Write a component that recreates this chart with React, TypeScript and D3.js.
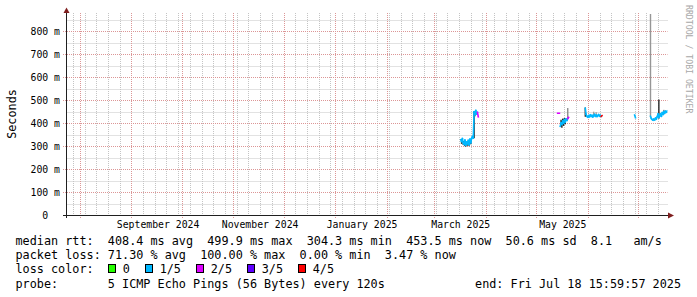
import React from 'react';
import * as d3 from 'd3';

const W = 697;
const H = 297;

// ---- axis data ----
const yTickValues = [0, 100, 200, 300, 400, 500, 600, 700, 800];
const yTickLabels = ['0  ', '100 m', '200 m', '300 m', '400 m', '500 m', '600 m', '700 m', '800 m'];
const yMinorValues = [50, 150, 250, 350, 450, 550, 650, 750, 850];
const startTime = '2024-07-23 15:59:57';
const endTime = '2025-07-18 15:59:57';

// ---- median rtt samples (ms), null = no data ----
const sampleTimes = [
  '2025-03-17 00:00', '2025-03-17 12:00', '2025-03-18 00:00', '2025-03-18 12:00', '2025-03-19 00:00',
  '2025-03-19 12:00', '2025-03-20 00:00', '2025-03-20 12:00', '2025-03-21 00:00', '2025-03-21 12:00',
  '2025-03-22 00:00', '2025-03-22 12:00', '2025-03-23 00:00', '2025-03-23 12:00', '2025-03-24 00:00',
  '2025-03-24 12:00', '2025-03-25 00:00', '2025-03-25 12:00', '2025-03-26 00:00', '2025-03-26 12:00',
  '2025-03-27 00:00', '2025-03-27 12:00', '2025-03-28 00:00',
  '2025-05-14 12:00', '2025-05-15 00:00',
  '2025-05-15 12:00', '2025-05-16 00:00', '2025-05-16 12:00', '2025-05-17 00:00', '2025-05-17 12:00',
  '2025-05-18 00:00', '2025-05-18 12:00', '2025-05-19 00:00', '2025-05-19 12:00', '2025-05-20 00:00',
  '2025-05-20 12:00', '2025-05-21 00:00',
  '2025-05-30 12:00', '2025-05-31 00:00', '2025-05-31 12:00', '2025-06-01 00:00', '2025-06-01 12:00',
  '2025-06-02 00:00', '2025-06-02 12:00', '2025-06-03 00:00', '2025-06-03 12:00', '2025-06-04 00:00',
  '2025-06-04 12:00', '2025-06-05 00:00', '2025-06-05 12:00', '2025-06-06 00:00', '2025-06-06 12:00',
  '2025-06-07 00:00', '2025-06-07 12:00', '2025-06-08 00:00', '2025-06-08 12:00', '2025-06-09 00:00',
  '2025-06-09 12:00', '2025-06-10 00:00',
  '2025-06-29 00:00', '2025-06-29 12:00', '2025-06-30 00:00',
  '2025-07-08 12:00', '2025-07-09 00:00', '2025-07-09 12:00', '2025-07-10 00:00', '2025-07-10 12:00',
  '2025-07-11 00:00', '2025-07-11 12:00', '2025-07-12 00:00', '2025-07-12 12:00', '2025-07-13 00:00',
  '2025-07-13 12:00', '2025-07-14 00:00', '2025-07-14 12:00', '2025-07-15 00:00', '2025-07-15 12:00',
  '2025-07-16 00:00', '2025-07-16 12:00', '2025-07-17 00:00', '2025-07-17 12:00', '2025-07-18 00:00',
  '2025-07-18 12:00',
];
const medianRtt: (number | null)[] = [
  328, 320, 333, 314, 308,
  326, 304, 318, 310, 325,
  306, 330, 315, 334, 342,
  335, 450, 438, 455, 440,
  447, 428, null,
  443, null,
  386, 402, 395, 410, 400,
  415, 405, 418, 412, 420,
  425, null,
  465, 438, 430, 426, 433,
  428, 436, 430, 434, 427,
  432, 438, 430, 435, 429,
  433, 437, 431, 434, 430,
  433, null,
  436, 424, null,
  430, 420, 416, 413, 418,
  414, 422, 418, 428, 440,
  425, 432, 440, 430, 446,
  438, 450, 444, 452, 448,
  453.5,
];
const lostPings: number[] = [
  1, 1, 1, 1, 1,
  1, 1, 1, 1, 1,
  1, 1, 1, 1, 1,
  1, 1, 1, 1, 1,
  1, 2, 0,
  2, 0,
  2, 1, 1, 1, 1,
  1, 1, 1, 1, 1,
  2, 0,
  4, 1, 1, 1, 1,
  1, 1, 1, 1, 1,
  1, 1, 1, 1, 1,
  1, 1, 1, 1, 1,
  4, 0,
  2, 1, 0,
  3, 1, 1, 1, 1,
  1, 1, 1, 1, 1,
  1, 1, 1, 1, 1,
  1, 1, 1, 1, 1,
  1,
];

// ---- smoke (rtt spread of the pings), ms ----
const smokeTimes = [
  '2025-03-17 12:00', '2025-03-18 12:00', '2025-03-19 12:00', '2025-03-20 00:00', '2025-03-21 00:00',
  '2025-03-22 00:00', '2025-03-23 00:00', '2025-03-25 00:00', '2025-03-25 12:00',
  '2025-05-16 00:00', '2025-05-16 12:00', '2025-05-17 00:00', '2025-05-17 12:00', '2025-05-18 00:00',
  '2025-05-18 12:00', '2025-05-20 00:00',
  '2025-05-30 12:00', '2025-06-04 12:00', '2025-06-06 00:00',
  '2025-07-08 12:00', '2025-07-13 12:00', '2025-07-16 12:00',
];
const smokeLow = [
  310, 305, 300, 298, 302,
  300, 308, 335, 430,
  385, 380, 392, 388, 398,
  395, 420,
  428, 432, 435,
  425, 420, 438,
];
const smokeHigh = [
  330, 322, 326, 318, 320,
  318, 325, 452, 452,
  415, 410, 420, 418, 422,
  420, 466,
  468, 450, 448,
  900, 503, 458,
];
const smokeSpread = [
  0.1, 0.1, 0.1, 0.1, 0.1,
  0.1, 0.1, 0.1, 0.3,
  0.1, 0.1, 0.1, 0.1, 0.1,
  0.1, 0.6,
  0.1, 0.7, 0.7,
  0.65, 0.1, 0.5,
];

// ---- legend ----
const lossLabels = ['0', '1/5', '2/5', '3/5', '4/5'];
const lossColors = ['#26ff00', '#00b8ff', '#dd00ff', '#5e00ff', '#ff0000'];
const statLine1 = 'median rtt:  408.4 ms avg  499.9 ms max  304.3 ms min  453.5 ms now  50.6 ms sd  8.1   am/s';
const statLine2 = 'packet loss: 71.30 % avg  100.00 % max  0.00 % min  3.47 % now';
const lossTitle = 'loss color:';
const probeLine = 'probe:       5 ICMP Echo Pings (56 Bytes) every 120s';
const endLine = 'end: Fri Jul 18 15:59:57 2025';
const yTitle = 'Seconds';
const watermark = 'RRDTOOL / TOBI OETIKER';

const MONO = '"DejaVu Sans Mono", "Liberation Mono", monospace';

export default function App() {
  const parse = d3.timeParse('%Y-%m-%d %H:%M');
  const parseFull = d3.timeParse('%Y-%m-%d %H:%M:%S');
  const t0 = parseFull(startTime) as Date;
  const t1 = parseFull(endTime) as Date;

  const left = 65.6;
  const right = 667.5;
  const top = 13;
  const bottom = 215;
  const axisX = 66.5;

  const x = d3.scaleTime().domain([t0, t1]).range([left, right]);
  const y = d3.scaleLinear().domain([0, 880]).range([bottom, top]);

  const weeks = d3.timeSunday.range(t0, t1);
  const months = d3.timeMonth.range(t0, t1);
  const labelMonths = d3.timeMonth.every(2)!.range(t0, t1);
  const fmt = d3.timeFormat('%B %Y');
  const axisFont = 9.8;
  const axisCharW = axisFont * 0.602;

  const pts = sampleTimes.map((s, i) => ({
    t: parse(s) as Date,
    v: medianRtt[i],
    loss: lostPings[i],
  }));

  const segs: { x1: number; y1: number; x2: number; y2: number; c: string }[] = [];
  pts.forEach((p, i) => {
    if (p.v == null) return;
    const xi = x(p.t);
    const yi = y(p.v);
    const prev = i > 0 ? pts[i - 1] : null;
    const next = i < pts.length - 1 ? pts[i + 1] : null;
    const c = lossColors[p.loss];
    if (prev && prev.v != null) {
      segs.push({ x1: x(prev.t), y1: y(prev.v), x2: xi, y2: yi, c });
    } else if (!next || next.v == null) {
      segs.push({ x1: xi - 0.9, y1: yi, x2: xi + 0.9, y2: yi, c });
    }
  });

  const smoke = smokeTimes.map((s, i) => {
    const g = Math.round(20 + smokeSpread[i] * 200);
    return {
      x: x(parse(s) as Date),
      y1: y(smokeHigh[i]),
      y2: y(smokeLow[i]),
      c: `rgb(${g},${g},${g})`,
    };
  });

  const legendFont = 11.8;
  const charW = legendFont * 0.602;
  const textX = 15.5;
  const lineY = [245, 259.2, 273.4, 287.6];

  // legend item layout
  let cx = textX + 13 * charW;
  const legendItems = lossLabels.map((lab, i) => {
    const bx = cx;
    const tx = bx + 15;
    cx = tx + (lab.length + 2) * charW + 0.5;
    return { bx, tx, lab, c: lossColors[i] };
  });

  const gridMinor = '#c4c4c4';
  const gridMajor = '#dc9696';
  const arrow = '#7f1f1f';

  return (
    <svg
      width={W}
      height={H}
      viewBox={`0 0 ${W} ${H}`}
      style={{ position: 'absolute', left: 0, top: 0, display: 'block', background: '#fff' }}
    >
      <rect x={0} y={0} width={W} height={H} fill="#ffffff" />
      <defs>
        <clipPath id="plotclip">
          <rect x={axisX} y={top + 1} width={right - axisX} height={bottom - top - 1} />
        </clipPath>
      </defs>

      {/* minor horizontal grid */}
      {yMinorValues.map((v) => (
        <line key={'hm' + v} x1={axisX} x2={right} y1={Math.round(y(v)) + 0.5} y2={Math.round(y(v)) + 0.5}
          stroke={gridMinor} strokeDasharray="1,1" />
      ))}
      {/* minor vertical grid (weeks) */}
      {weeks.map((d) => {
        const xx = Math.round(x(d)) + 0.5;
        return <line key={'vw' + +d} x1={xx} x2={xx} y1={top} y2={bottom} stroke={gridMinor} strokeDasharray="1,1" />;
      })}
      {/* major horizontal grid */}
      {yTickValues.filter((v) => v > 0).map((v) => (
        <line key={'hM' + v} x1={63} x2={right} y1={Math.round(y(v)) + 0.5} y2={Math.round(y(v)) + 0.5}
          stroke={gridMajor} strokeDasharray="1,1" />
      ))}
      {/* major vertical grid (months) */}
      {months.map((d) => {
        const xx = Math.round(x(d)) + 0.5;
        return <line key={'vM' + +d} x1={xx} x2={xx} y1={top} y2={bottom + 3} stroke={gridMajor} strokeDasharray="1,1" />;
      })}

      {/* y tick labels */}
      {yTickValues.map((v, i) => (
        <text key={'yl' + v} x={60} y={y(v) + 3.6} textAnchor="end" fontFamily={MONO} fontSize={axisFont}
          fill="#000" xmlSpace="preserve" style={{ whiteSpace: 'pre' }}>
          {yTickLabels[i]}
        </text>
      ))}

      {/* x labels */}
      {labelMonths.map((m) => {
        const lab = fmt(m);
        const cxm = x(d3.timeHour.offset(m, 16 * 24));
        const half = (lab.length * axisCharW) / 2;
        if (cxm + half > right + 1 || cxm - half < left) return null;
        return (
          <text key={'xl' + +m} x={cxm} y={228} textAnchor="middle" fontFamily={MONO} fontSize={axisFont} fill="#000">
            {lab}
          </text>
        );
      })}

      {/* data */}
      <g clipPath="url(#plotclip)">
        {smoke.map((s, i) => (
          <rect key={'sm' + i} x={s.x - 0.7} y={s.y1} width={1.4} height={Math.max(1, s.y2 - s.y1)} fill={s.c} />
        ))}
        {segs.map((s, i) => (
          <line key={'sg' + i} x1={s.x1} y1={s.y1} x2={s.x2} y2={s.y2} stroke={s.c} strokeWidth={1.6}
            strokeLinecap="square" />
        ))}
      </g>

      {/* axes */}
      <line x1={axisX} x2={axisX} y1={9} y2={218} stroke="#1f1f1f" strokeWidth={1} />
      <line x1={63} x2={670} y1={215.5} y2={215.5} stroke="#1f1f1f" strokeWidth={1} />
      <path d={`M${axisX - 3},13 L${axisX + 3},13 L${axisX},7.5 Z`} fill={arrow} />
      <path d={`M668,212.5 L668,218.5 L674,215.5 Z`} fill={arrow} />

      {/* y title */}
      <text transform="translate(15.5,114) rotate(-90)" textAnchor="middle" fontFamily={MONO} fontSize={legendFont}
        fill="#000">
        {yTitle}
      </text>

      {/* watermark */}
      <text transform="translate(685.5,5) rotate(90)" textAnchor="start" fontFamily={MONO} fontSize={8.2}
        fill="#a8a8a8">
        {watermark}
      </text>

      {/* legend */}
      <g fontFamily={MONO} fontSize={legendFont} fill="#000">
        <text x={textX} y={lineY[0]} xmlSpace="preserve" style={{ whiteSpace: 'pre' }}>{statLine1}</text>
        <text x={textX} y={lineY[1]} xmlSpace="preserve" style={{ whiteSpace: 'pre' }}>{statLine2}</text>
        <text x={textX} y={lineY[2]}>{lossTitle}</text>
        {legendItems.map((it) => (
          <g key={it.lab}>
            <rect x={Math.round(it.bx) + 0.5} y={264.5} width={7} height={8} fill={it.c} stroke="#000" strokeWidth={1} />
            <text x={it.tx} y={lineY[2]}>{it.lab}</text>
          </g>
        ))}
        <text x={textX} y={lineY[3]} xmlSpace="preserve" style={{ whiteSpace: 'pre' }}>{probeLine}</text>
        <text x={681} y={lineY[3]} textAnchor="end">{endLine}</text>
      </g>
    </svg>
  );
}
